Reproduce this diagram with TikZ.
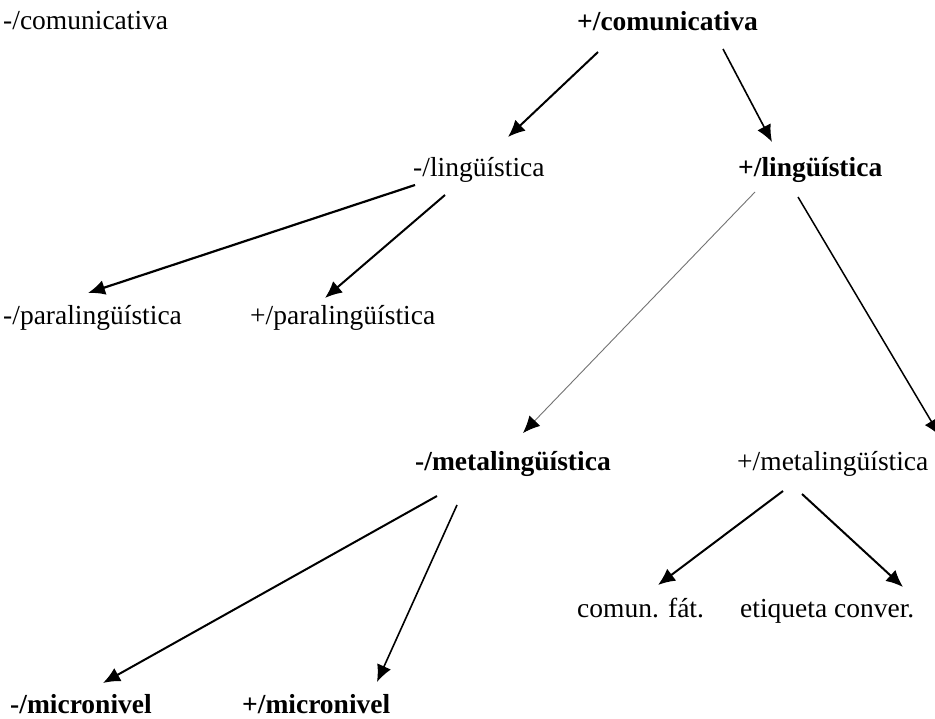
\documentclass[tikz,border=0pt]{standalone}
\usepackage{fontspec}
\setmainfont{Liberation Serif}
\usetikzlibrary{arrows.meta}
\begin{document}
\begin{tikzpicture}[x=1pt,y=-1pt,
  lbl/.style={anchor=base west,inner sep=0pt,font=\fontsize{27.5}{30}\selectfont},
  blbl/.style={lbl,font=\fontsize{27.5}{30}\selectfont\bfseries},
  arr/.style={line width=2pt,-{Latex[length=17pt,width=15pt]}},
  thinarr/.style={line width=0.9pt,draw=black!55,-{Latex[length=17pt,width=15pt,fill=black,color=black]}}]
\useasboundingbox[fill=white] (0,0) rectangle (935,719);
\node[lbl]  (cm) at (3,30)    {-/comunicativa};
\node[blbl] (cp) at (577,31)  {+/comunicativa};
\node[lbl]  (lm) at (413,177) {-/lingüística};
\node[blbl] (lp) at (738,177) {+/lingüística};
\node[lbl]  (pm) at (3,325)   {-/paralingüística};
\node[lbl]  (pp) at (250,325) {+/paralingüística};
\node[blbl] (mm) at (415,470) {-/metalingüística};
\node[lbl]  (mp) at (737,470) {+/metalingüística};
\node[lbl]  (cf) at (577,617) {comun. fát.};
\node[lbl]  (ec) at (740,617) {etiqueta conver.};
\node[blbl] (nm) at (10,713)  {-/micronivel};
\node[blbl] (np) at (242,713) {+/micronivel};
\coordinate (offr) at (940,436);
\draw[arr] ([shift={(21,21)}]cp.base west) -- ([shift={(95,-40)}]lm.base west);
\draw[arr,line width=1.6pt] ([shift={(146,18)}]cp.base west) -- ([shift={(34,-35)}]lp.base west);
\draw[arr,line width=2.2pt] ([shift={(2,8)}]lm.base west) -- ([shift={(85,-32)}]pm.base west);
\draw[arr] ([shift={(32,18)}]lm.base west) -- ([shift={(75,-27)}]pp.base west);
\draw[thinarr] ([shift={(17,15)}]lp.base west) -- ([shift={(108,-37)}]mm.base west);
\draw[arr,line width=1.5pt] ([shift={(60,20)}]lp.base west) -- (offr);
\draw[arr] ([shift={(22,26)}]mm.base west) -- ([shift={(93,-30)}]nm.base west);
\draw[arr,line width=1.6pt] ([shift={(42,35)}]mm.base west) -- ([shift={(135,-31)}]np.base west);
\draw[arr] ([shift={(46,21)}]mp.base west) -- ([shift={(81,-32)}]cf.base west);
\draw[arr] ([shift={(65,24)}]mp.base west) -- ([shift={(163,-30)}]ec.base west);
\end{tikzpicture}
\end{document}
